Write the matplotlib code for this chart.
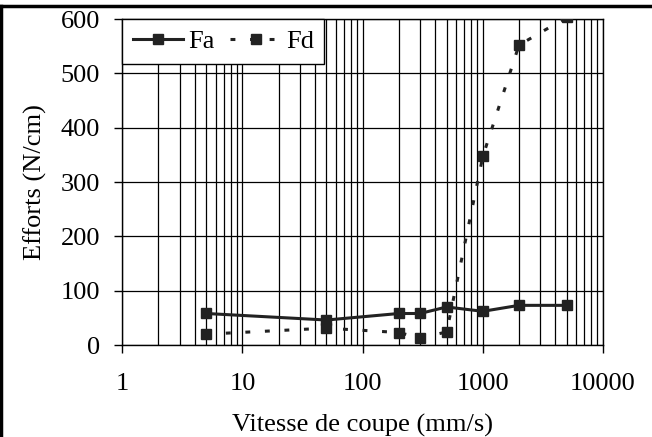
# =================
# IMPORTY
# =================
import matplotlib
matplotlib.use("Agg")
import matplotlib.pyplot as plt
from matplotlib import ticker
from matplotlib.lines import Line2D


# =================
# DANE
# =================
vitesse = [5, 50, 200, 300, 500, 1000, 2000, 5000]
fa = [58, 46, 58, 58, 70, 62, 73, 73]
fd = [20, 31, 23, 13, 24, 347, 552, 603]

x_ticks = [1, 10, 100, 1000, 10000]
y_ticks = [0, 100, 200, 300, 400, 500, 600]


# =================
# STYL
# =================
plt.rcParams["font.family"] = ["Liberation Serif", "DejaVu Serif"]
plt.rcParams["font.size"] = 19


# =================
# WYKRES
# =================
fig = plt.figure(figsize=(6.52, 4.37), dpi=100)
ax = fig.add_axes([0.1876, 0.2105, 0.7372, 0.746])

ax.plot(vitesse, fa, color="#222222", lw=2.2, marker="s", ms=7,
        label="Fa", zorder=3)
ax.plot(vitesse, fd, color="#222222", lw=2.2, ls=(0, (1.6, 4.8)),
        marker="s", ms=7, label="Fd", zorder=3)

ax.set_xscale("log")
ax.set_xlim(1, 10000)
ax.set_ylim(0, 600)
ax.set_xticks(x_ticks)
ax.set_yticks(y_ticks)
ax.xaxis.set_major_formatter(ticker.FuncFormatter(lambda v, _: f"{v:g}"))
ax.xaxis.set_minor_locator(ticker.LogLocator(base=10, subs=range(2, 10)))
ax.xaxis.set_minor_formatter(ticker.NullFormatter())

ax.grid(True, which="both", axis="x", color="black", lw=0.9)
ax.grid(True, which="major", axis="y", color="black", lw=0.9)
ax.set_axisbelow(True)

ax.tick_params(axis="x", which="major", direction="out", length=6,
               width=1, pad=14)
ax.tick_params(axis="x", which="minor", length=0)
ax.tick_params(axis="y", direction="out", length=6, width=1, pad=10)

for s in ax.spines.values():
    s.set_color("black")
    s.set_linewidth(1)

ax.set_xlabel("Vitesse de coupe (mm/s)", labelpad=14)
ax.set_ylabel("Efforts (N/cm)", labelpad=10)

leg = ax.legend(loc="upper left", bbox_to_anchor=(0, 1), ncol=2,
                borderaxespad=0, frameon=True, fancybox=False,
                handlelength=1.9, columnspacing=0.6, handletextpad=0.2,
                borderpad=0.4)
leg.get_frame().set_edgecolor("black")
leg.get_frame().set_linewidth(1)
leg.get_frame().set_alpha(1)

# ramka zewnętrzna (góra i lewo)
fig.add_artist(Line2D([0, 1], [0.986, 0.986], transform=fig.transFigure,
                      color="black", lw=2.5))
fig.add_artist(Line2D([0.002, 0.002], [0, 0.986], transform=fig.transFigure,
                      color="black", lw=2.5))

fig.savefig("out.png", dpi=100)
